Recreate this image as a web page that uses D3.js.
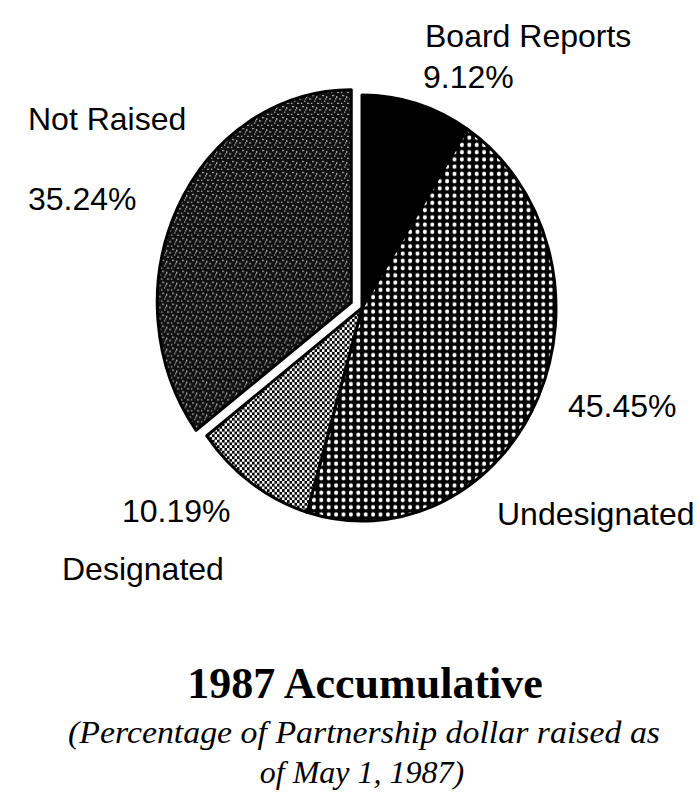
<!doctype html>
<html lang="en">
  <head>
    <meta charset="utf-8">
    <title>1987 Accumulative</title>
    <script src="https://d3js.org/d3.v7.min.js"></script>
    <style>
      body { margin: 0; background: #fff; }
      .lbl { font-family: 'Liberation Sans', Arial, sans-serif; font-size: 32px; fill: #000; }
      .title { font-family: 'Liberation Serif', 'Times New Roman', serif; font-weight: bold; font-size: 44px; }
      .sub { font-family: 'Liberation Serif', 'Times New Roman', serif; font-style: italic; font-size: 32px; }
    </style>
  </head>
  <body>
    <div id="root"></div>
  <script>
    //data:
    const categories = ['Board Reports', 'Undesignated', 'Designated', 'Not Raised'];
    const values = [9.12, 45.45, 10.19, 35.24];
    const exploded = ['Not Raised'];
    const fills = ['#000', 'url(#dots)', 'url(#checks)', 'url(#speck)'];

    // label placement: [name x, name y, value x, value y]
    const labelPos = [
      [425, 47, 423, 88],
      [497, 525, 568, 417],
      [62, 580, 122, 522],
      [28, 130, 28, 210]
    ];

    const width = 698, height = 799;
    const cx = 362, cy = 308, r = 194, yStretch = 213 / 194;
    const pop = 12;

    const svg = d3.select('#root').append('svg')
      .attr('width', width).attr('height', height);

    //patterns:
    const defs = svg.append('defs');
    const dots = defs.append('pattern').attr('id', 'dots')
      .attr('patternUnits', 'userSpaceOnUse').attr('width', 7.4).attr('height', 6.6);
    dots.append('rect').attr('width', 7.4).attr('height', 6.6).attr('fill', '#000');
    dots.append('circle').attr('cx', 3.7).attr('cy', 3.3).attr('r', 2).attr('fill', '#fff');

    const checks = defs.append('pattern').attr('id', 'checks')
      .attr('patternUnits', 'userSpaceOnUse').attr('width', 5).attr('height', 5);
    checks.append('rect').attr('width', 5).attr('height', 5).attr('fill', '#fff');
    checks.append('rect').attr('width', 2.6).attr('height', 2.6).attr('fill', '#000');
    checks.append('rect').attr('x', 2.5).attr('y', 2.5).attr('width', 2.6).attr('height', 2.6).attr('fill', '#000');

    const speck = defs.append('pattern').attr('id', 'speck')
      .attr('patternUnits', 'userSpaceOnUse').attr('width', 10).attr('height', 10);
    speck.append('rect').attr('width', 10).attr('height', 10).attr('fill', '#111');
    [[1, 1, 1.5, 1], [5, 2, 1, 1.5], [8, 4, 1.5, 1], [3, 6, 1, 1], [6, 8, 1.5, 1], [0, 8, 1, 1], [4, 4, 1, 1]]
      .forEach(s => speck.append('rect')
        .attr('x', s[0]).attr('y', s[1]).attr('width', s[2]).attr('height', s[3]).attr('fill', '#fff'));

    //pie:
    const pie = d3.pie().sort(null).value(d => d.v);
    const arc = d3.arc().innerRadius(0).outerRadius(r);
    const data = pie(categories.map((c, i) => ({ c, v: values[i], i })));

    const g = svg.append('g')
      .attr('transform', `translate(${cx},${cy}) scale(1,${yStretch})`);

    g.selectAll('path')
      .data(data)
      .enter()
      .append('path')
      .attr('d', arc)
      .attr('transform', d => {
        if (!exploded.includes(d.data.c)) return null;
        const a = (d.startAngle + d.endAngle) / 2;
        return `translate(${Math.sin(a) * pop},${-Math.cos(a) * pop / yStretch})`;
      })
      .attr('fill', d => fills[d.data.i])
      .attr('stroke', '#000')
      .attr('stroke-width', 3)
      .attr('stroke-linejoin', 'round')
      .attr('vector-effect', 'non-scaling-stroke');

    //labels:
    categories.forEach((c, i) => {
      const p = labelPos[i];
      svg.append('text').attr('class', 'lbl').attr('x', p[0]).attr('y', p[1]).text(c);
      svg.append('text').attr('class', 'lbl').attr('x', p[2]).attr('y', p[3])
        .text(values[i].toFixed(2) + '%');
    });

    //title:
    svg.append('text').attr('class', 'title').attr('x', 365).attr('y', 698)
      .attr('text-anchor', 'middle').text('1987 Accumulative');
    svg.append('text').attr('class', 'sub').attr('x', 364).attr('y', 743)
      .attr('text-anchor', 'middle')
      .attr('textLength', 592).attr('lengthAdjust', 'spacingAndGlyphs')
      .text('(Percentage of Partnership dollar raised as');
    svg.append('text').attr('class', 'sub').attr('x', 362).attr('y', 783)
      .attr('text-anchor', 'middle').text('of May 1, 1987)');
  </script>
  </body>
</html>
